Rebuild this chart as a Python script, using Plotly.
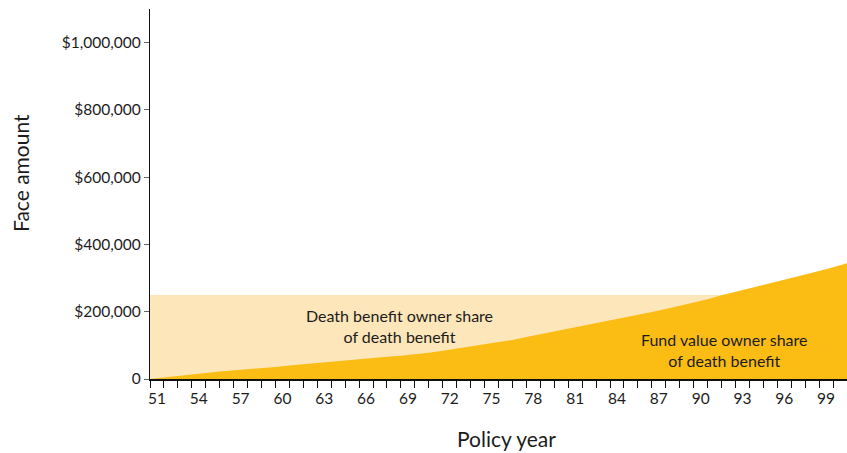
import plotly.graph_objects as go

# Policy years 51..100; values are read at the end of each year (year boundaries)
years = list(range(51, 101))
death_benefit = 250000
fund_value = [
    0, 5000, 10000, 15000, 18000, 22000, 25000, 28000, 32000, 36000,
    40000, 44000, 48000, 51000, 55000, 59000, 62000, 66000, 69000, 73000,
    78000, 84000, 90000, 96000, 103000, 109000, 116000, 125000, 133000, 141000,
    149000, 157000, 165000, 173000, 181000, 190000, 199000, 208000, 217000, 227000,
    237000, 249000, 259000, 269000, 279000, 290000, 300000, 311000, 321000, 332000,
    344000,
]
y_ticks = [0, 200000, 400000, 600000, 800000, 1000000]
y_labels = ["0", "$200,000", "$400,000", "$600,000", "$800,000", "$1,000,000"]
x_label_years = years[::3]

boundaries = [years[0] - 0.5 + i for i in range(len(years) + 1)]

LIGHT = "#fde6b9"
DARK = "#fbbc14"
FONT = "Lato"
TEXT = "#1c1c1c"

fig = go.Figure()
fig.add_trace(go.Scatter(
    x=boundaries, y=[death_benefit] * len(boundaries),
    fill="tozeroy", fillcolor=LIGHT, mode="lines",
    line=dict(width=0, color=LIGHT), hoverinfo="skip", showlegend=False,
))
fig.add_trace(go.Scatter(
    x=boundaries, y=fund_value,
    fill="tozeroy", fillcolor=DARK, mode="lines",
    line=dict(width=0, color=DARK), hoverinfo="skip", showlegend=False,
))

fig.update_xaxes(
    range=[boundaries[0], boundaries[-1]],
    tickvals=x_label_years, ticktext=[str(y) for y in x_label_years],
    ticks="", ticklen=0, ticklabelstandoff=5,
    minor=dict(tickvals=boundaries, ticks="outside", ticklen=7,
               tickcolor="#111", tickwidth=1.3),
    showline=True, linecolor="#111", linewidth=1.6,
    showgrid=False, zeroline=False,
    tickfont=dict(family=FONT, size=15.5, color=TEXT),
)
fig.update_yaxes(
    range=[0, 1100000],
    tickvals=y_ticks, ticktext=y_labels,
    ticks="outside", ticklen=5, tickcolor="#666", tickwidth=1,
    showline=True, linecolor="#111", linewidth=1.4,
    showgrid=False, zeroline=False,
    tickfont=dict(family=FONT, size=15.5, color=TEXT),
)

# area labels
fig.add_annotation(
    x=68.4, y=157000, xref="x", yref="y",
    text="Death benefit owner share<br>of death benefit",
    showarrow=False, xanchor="center", yanchor="middle",
    font=dict(family=FONT, size=16, color=TEXT),
)
fig.add_annotation(
    x=91.7, y=85000, xref="x", yref="y",
    text="Fund value owner share<br>of death benefit",
    showarrow=False, xanchor="center", yanchor="middle",
    font=dict(family=FONT, size=16, color=TEXT),
)

# axis titles
fig.add_annotation(
    x=-0.185, y=0.557, xref="paper", yref="paper",
    text="Face amount", textangle=-90, showarrow=False,
    xanchor="center", yanchor="middle",
    font=dict(family=FONT, size=21, color=TEXT),
)
fig.add_annotation(
    x=0.512, y=-0.16, xref="paper", yref="paper",
    text="Policy year", showarrow=False,
    xanchor="center", yanchor="middle",
    font=dict(family=FONT, size=21, color=TEXT),
)

fig.update_layout(
    width=847, height=453,
    margin=dict(l=150, r=0, t=9, b=74),
    plot_bgcolor="white", paper_bgcolor="white",
    font=dict(family=FONT),
)

fig.write_html("out.html")
